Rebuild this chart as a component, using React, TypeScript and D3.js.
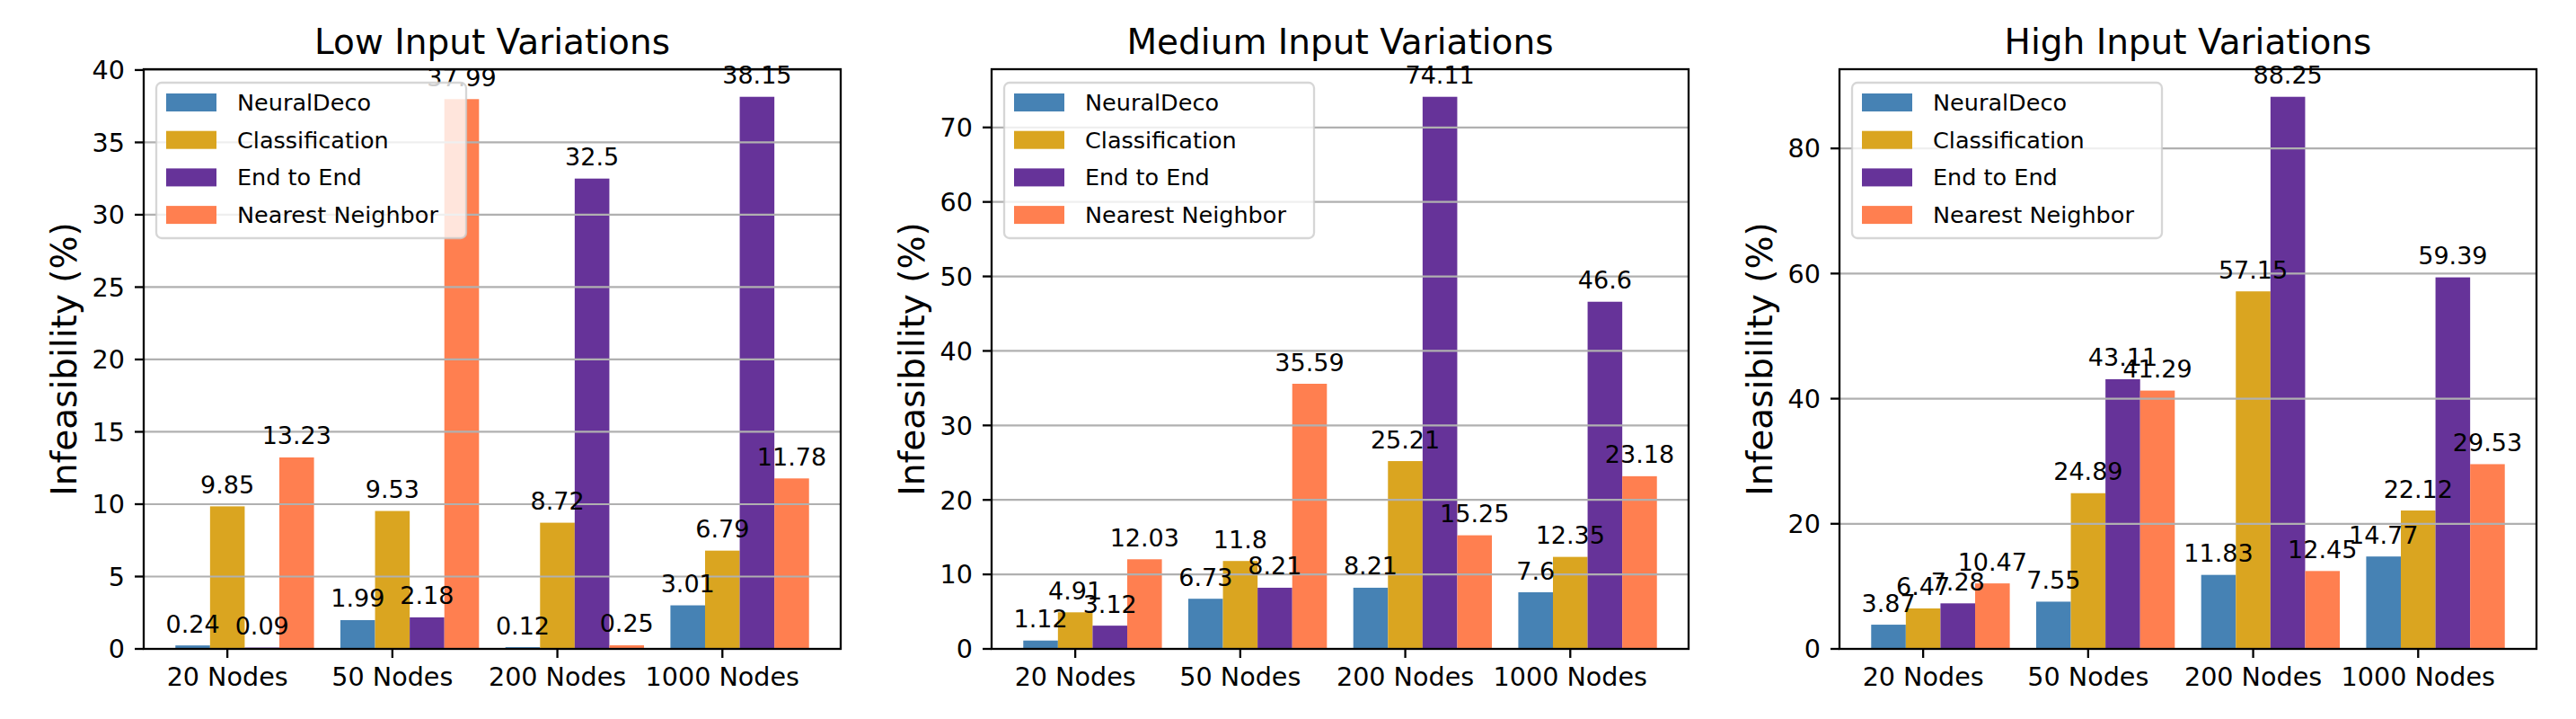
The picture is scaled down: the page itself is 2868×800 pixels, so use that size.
import { useEffect } from "react";
import * as d3 from "d3";

const categories = ["20 Nodes", "50 Nodes", "200 Nodes", "1000 Nodes"];
const methods = ["NeuralDeco", "Classification", "End to End", "Nearest Neighbor"];
const colors = ["#4682B4", "#DAA520", "#663399", "#FF7F50"];

const titles = ["Low Input Variations", "Medium Input Variations", "High Input Variations"];

// values per method, one array per category group
const lowNeuralDeco = [0.24, 1.99, 0.12, 3.01];
const lowClassification = [9.85, 9.53, 8.72, 6.79];
const lowEndToEnd = [0.09, 2.18, 32.5, 38.15];
const lowNearest = [13.23, 37.99, 0.25, 11.78];

const medNeuralDeco = [1.12, 6.73, 8.21, 7.6];
const medClassification = [4.91, 11.8, 25.21, 12.35];
const medEndToEnd = [3.12, 8.21, 74.11, 46.6];
const medNearest = [12.03, 35.59, 15.25, 23.18];

const highNeuralDeco = [3.87, 7.55, 11.83, 14.77];
const highClassification = [6.47, 24.89, 57.15, 22.12];
const highEndToEnd = [7.28, 43.11, 88.25, 59.39];
const highNearest = [10.47, 41.29, 12.45, 29.53];

const lowTicks = [0, 5, 10, 15, 20, 25, 30, 35, 40];
const medTicks = [0, 10, 20, 30, 40, 50, 60, 70];
const highTicks = [0, 20, 40, 60, 80];

const panels = [
    { title: titles[0], series: [lowNeuralDeco, lowClassification, lowEndToEnd, lowNearest], ticks: lowTicks },
    { title: titles[1], series: [medNeuralDeco, medClassification, medEndToEnd, medNearest], ticks: medTicks },
    { title: titles[2], series: [highNeuralDeco, highClassification, highEndToEnd, highNearest], ticks: highTicks },
];

const W = 2868;
const H = 800;
const FONT = "DejaVu Sans, sans-serif";
const BAR_W = 0.21;

const plotTop = 77;
const plotBottom = 722;
const plotWidth = 776;
const panelLefts = [160, 1104, 2048];

const Panel = ({ left, title, series, ticks }: { left: number; title: string; series: number[][]; ticks: number[] }) => {
    const span = categories.length - 1 + 4 * BAR_W;
    const margin = 0.05 * span;
    const x = d3
        .scaleLinear()
        .domain([-1.5 * BAR_W - margin, categories.length - 1 + 2.5 * BAR_W + margin])
        .range([left, left + plotWidth]);
    const yMax = d3.max(series.flat()) ?? 1;
    const y = d3.scaleLinear().domain([0, yMax * 1.05]).range([plotBottom, plotTop]);
    const bw = x(BAR_W) - x(0);
    const cx = left + plotWidth / 2;

    const lgX = left + 14;
    const lgY = plotTop + 15;
    const lgW = 345;
    const lgH = 173;

    return (
        <g fontFamily={FONT}>
            {/* bars */}
            {series.map((vals, si) =>
                vals.map((v, ci) => (
                    <rect
                        key={`${si}-${ci}`}
                        x={x(ci + (si - 1) * BAR_W) - bw / 2}
                        y={y(v)}
                        width={bw}
                        height={y(0) - y(v)}
                        fill={colors[si]}
                    />
                ))
            )}
            {/* grid */}
            {ticks.map((t) => (
                <line key={t} x1={left} x2={left + plotWidth} y1={y(t)} y2={y(t)} stroke="#b0b0b0" strokeWidth={2.2} />
            ))}
            {/* value labels */}
            {series.map((vals, si) =>
                vals.map((v, ci) => (
                    <text
                        key={`l${si}-${ci}`}
                        x={x(ci + (si - 1) * BAR_W)}
                        y={y(v) - 14.5}
                        textAnchor="middle"
                        fontSize={27}
                        fill="#000"
                    >
                        {String(v)}
                    </text>
                ))
            )}
            {/* spines */}
            <rect x={left} y={plotTop} width={plotWidth} height={plotBottom - plotTop} fill="none" stroke="#000" strokeWidth={2.3} />
            {/* y ticks */}
            {ticks.map((t) => (
                <g key={`yt${t}`}>
                    <line x1={left - 10} x2={left} y1={y(t)} y2={y(t)} stroke="#000" strokeWidth={2.3} />
                    <text x={left - 21} y={y(t)} dy="0.36em" textAnchor="end" fontSize={28.6}>
                        {t}
                    </text>
                </g>
            ))}
            {/* x ticks */}
            {categories.map((c, ci) => (
                <g key={c}>
                    <line x1={x(ci)} x2={x(ci)} y1={plotBottom} y2={plotBottom + 10} stroke="#000" strokeWidth={2.3} />
                    <text x={x(ci)} y={plotBottom + 41} textAnchor="middle" fontSize={28.6}>
                        {c}
                    </text>
                </g>
            ))}
            {/* axis title + y label */}
            <text x={cx} y={60} textAnchor="middle" fontSize={39}>
                {title}
            </text>
            <text
                transform={`translate(${left - 75},${(plotTop + plotBottom) / 2}) rotate(-90)`}
                textAnchor="middle"
                fontSize={39}
            >
                Infeasibility (%)
            </text>
            {/* legend */}
            <rect
                x={lgX}
                y={lgY}
                width={lgW}
                height={lgH}
                rx={6}
                fill="#fff"
                fillOpacity={0.8}
                stroke="#cccccc"
                strokeOpacity={0.8}
                strokeWidth={2.3}
            />
            {methods.map((m, i) => {
                const rowY = lgY + 22 + i * 41.7;
                return (
                    <g key={m}>
                        <rect x={lgX + 11} y={rowY - 10} width={56} height={20} fill={colors[i]} />
                        <text x={lgX + 90} y={rowY + 9} fontSize={25.5}>
                            {m}
                        </text>
                    </g>
                );
            })}
        </g>
    );
};

export default function App() {
    useEffect(() => {
        document.body.style.margin = "0";
    }, []);
    return (
        <svg width={W} height={H} viewBox={`0 0 ${W} ${H}`} style={{ display: "block", background: "#fff" }}>
            <rect width={W} height={H} fill="#fff" />
            {panels.map((p, i) => (
                <Panel key={p.title} left={panelLefts[i]} title={p.title} series={p.series} ticks={p.ticks} />
            ))}
        </svg>
    );
}
